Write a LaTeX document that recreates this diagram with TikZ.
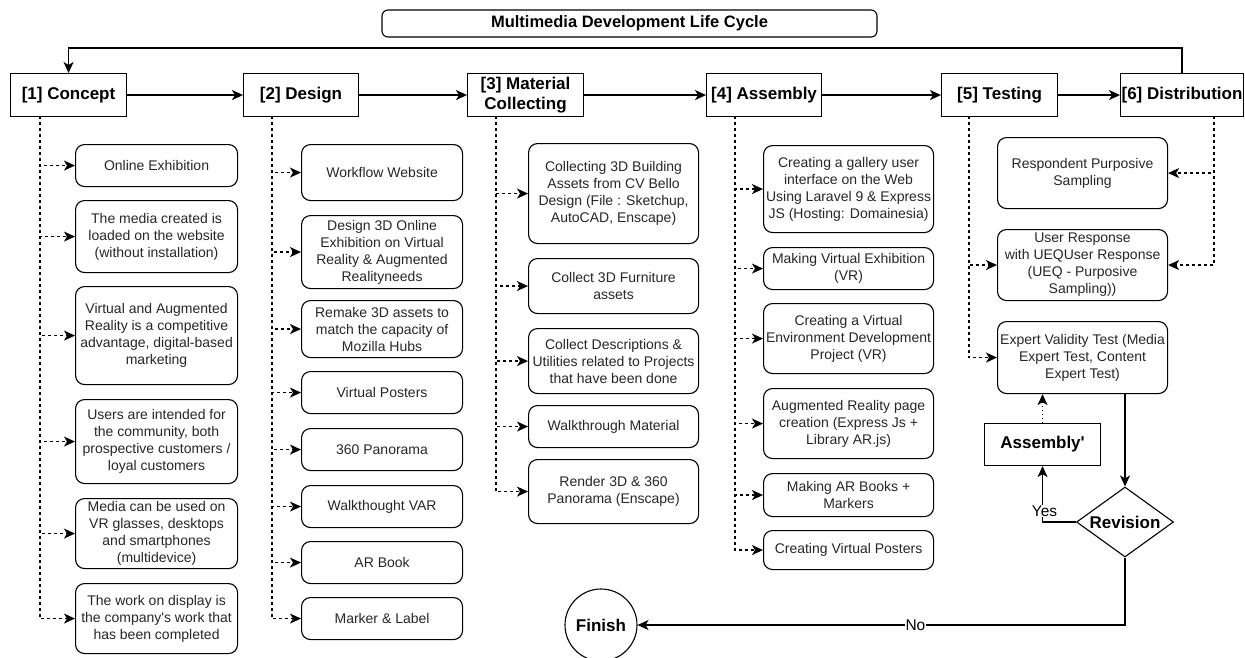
\documentclass[tikz,border=0pt]{standalone}
\usepackage{fontspec}
\setmainfont{Liberation Sans}
\usetikzlibrary{arrows.meta,shapes.geometric}
\begin{document}
\begin{tikzpicture}[x=1pt,y=-1pt,
  >={Stealth[length=11pt,width=10pt,inset=3pt]},
  base/.style={draw, line width=1.1pt, inner sep=0pt, align=center},
  hdr/.style={base, font=\fontsize{17}{20}\selectfont\bfseries, minimum height=43pt, anchor=north west},
  item/.style={base, rounded corners=9pt, font=\fontsize{14}{17}\selectfont, text=black!85, anchor=north west},
  flow/.style={line width=1.3pt, ->},
  dep/.style={line width=1.2pt, dash pattern=on 3pt off 3pt, ->},
  dots/.style={line width=1.2pt, dash pattern=on 1.5pt off 2.5pt, ->},
  lbl/.style={fill=white, inner sep=1pt, font=\fontsize{15.5}{18}\selectfont},
]
\useasboundingbox (0,0) rectangle (1245,657);

% title
\node[base, rounded corners=6pt, minimum width=495pt, minimum height=27pt,
      font=\fontsize{16.5}{19}\selectfont\bfseries] (title) at (629.5,23.5) {Multimedia Development Life Cycle};

% headers
\node[hdr, minimum width=116pt] (c1) at (10,73) {[1] Concept};
\node[hdr, minimum width=115pt] (c2) at (243,73) {[2] Design};
\node[hdr, minimum width=116pt] (c3) at (467,73) {[3] Material\\Collecting};
\node[hdr, minimum width=115pt] (c4) at (706,73) {[4] Assembly};
\node[hdr, minimum width=116pt] (c5) at (941,73) {[5] Testing};
\node[hdr, minimum width=123pt] (c6) at (1120,73) {[6] Distribution};

\draw[flow] (c1) -- (c2);
\draw[flow] (c2) -- (c3);
\draw[flow] (c3) -- (c4);
\draw[flow] (c4) -- (c5);
\draw[flow] (c5) -- (c6);
\draw[flow] (c6.north) -- ++(0,-25) -| (c1.north);

% column lines
\coordinate (l1) at (40,116);
\coordinate (l2) at (272,116);
\coordinate (l3) at (496,116);
\coordinate (l4) at (735,116);
\coordinate (l5) at (969,116);
\coordinate (l6) at (1214,116);

% concept
\node[item, minimum width=162pt, minimum height=42pt] (a1) at (75,144) {Online Exhibition};
\node[item, minimum width=162pt, minimum height=72pt] (a2) at (75,200) {The media created is\\loaded on the website\\(without installation)};
\node[item, minimum width=162pt, minimum height=98pt] (a3) at (75,286) {Virtual and Augmented\\Reality is a competitive\\advantage, digital-based\\marketing};
\node[item, minimum width=162pt, minimum height=84pt] (a4) at (75,399) {Users are intended for\\the community, both\\prospective customers /\\loyal customers};
\node[item, minimum width=162pt, minimum height=70pt] (a5) at (75,498) {Media can be used on\\VR glasses, desktops\\and smartphones\\(multidevice)};
\node[item, minimum width=162pt, minimum height=70pt] (a6) at (75,583) {The work on display is\\the company\textquotesingle s work that\\has been completed};
\foreach \n in {a1,a2,a3,a4,a5,a6} \draw[dep] (l1) |- (\n.west);

% design
\node[item, minimum width=161pt, minimum height=56pt] (b1) at (301,144) {Workflow Website};
\node[item, minimum width=161pt, minimum height=73pt] (b2) at (301,215) {Design 3D Online\\Exhibition on Virtual\\Reality \& Augmented\\Realityneeds};
\node[item, minimum width=161pt, minimum height=57pt] (b3) at (301,300) {Remake 3D assets to\\match the capacity of\\Mozilla Hubs};
\node[item, minimum width=161pt, minimum height=42pt] (b4) at (301,371) {Virtual Posters};
\node[item, minimum width=161pt, minimum height=42pt] (b5) at (301,428) {360 Panorama};
\node[item, minimum width=161pt, minimum height=42pt] (b6) at (301,485) {Walkthought VAR};
\node[item, minimum width=161pt, minimum height=42pt] (b7) at (301,541) {AR Book};
\node[item, minimum width=161pt, minimum height=42pt] (b8) at (301,597) {Marker \& Label};
\foreach \n in {b1,b2,b3,b4,b5,b6,b7,b8} \draw[dep] (l2) |- (\n.west);

% material collecting
\node[item, minimum width=170pt, minimum height=100pt] (m1) at (528,143) {Collecting 3D Building\\Assets from CV Bello\\Design (File : Sketchup,\\AutoCAD, Enscape)};
\node[item, minimum width=170pt, minimum height=55pt] (m2) at (528,258) {Collect 3D Furniture\\assets};
\node[item, minimum width=170pt, minimum height=65pt] (m3) at (528,328) {Collect Descriptions \&\\Utilities related to Projects\\that have been done};
\node[item, minimum width=170pt, minimum height=42pt] (m4) at (528,405) {Walkthrough Material};
\node[item, minimum width=170pt, minimum height=64pt] (m5) at (528,459) {Render 3D \& 360\\Panorama (Enscape)};
\foreach \n in {m1,m2,m3,m4,m5} \draw[dep] (l3) |- (\n.west);

% assembly
\node[item, minimum width=170pt, minimum height=87pt] (s1) at (763,145) {Creating a gallery user\\interface on the Web\\Using Laravel 9 \& Express\\JS (Hosting: Domainesia)};
\node[item, minimum width=170pt, minimum height=42pt] (s2) at (763,247) {Making Virtual Exhibition\\(VR)};
\node[item, minimum width=170pt, minimum height=70pt] (s3) at (763,303) {Creating a Virtual\\Environment Development\\Project (VR)};
\node[item, minimum width=170pt, minimum height=70pt] (s4) at (763,388) {Augmented Reality page\\creation (Express Js +\\Library AR.js)};
\node[item, minimum width=170pt, minimum height=43pt] (s5) at (763,473) {Making AR Books +\\Markers};
\node[item, minimum width=170pt, minimum height=39pt] (s6) at (763,530) {Creating Virtual Posters};
\foreach \n in {s1,s2,s3,s4,s5,s6} \draw[dep] (l4) |- (\n.west);

% testing / distribution
\node[item, minimum width=170pt, minimum height=71pt] (t1) at (997,137) {Respondent Purposive\\Sampling};
\node[item, minimum width=170pt, minimum height=71pt] (t2) at (997,229) {User Response\\with UEQUser Response\\(UEQ - Purposive\\Sampling))};
\node[item, minimum width=170pt, minimum height=72pt] (t3) at (997,321) {Expert Validity Test (Media\\Expert Test, Content\\Expert Test)};
\draw[dep] (l5) |- (t2.west);
\draw[dep] (l5) |- (t3.west);
\draw[dep] (l6) |- (t1.east);
\draw[dep] (l6) |- (t2.east);

% revision loop
\node[hdr, minimum width=116pt, minimum height=42pt] (asmp) at (984,423) {Assembly\textquotesingle};
\node[base, diamond, aspect=1.39, minimum width=97pt, minimum height=70pt,
      font=\fontsize{17}{20}\selectfont\bfseries] (rev) at (1125,522) {Revision};
\node[base, circle, minimum size=72pt, font=\fontsize{17}{20}\selectfont\bfseries] (fin) at (601,625) {Finish};

\draw[dots] (asmp.north) -- (asmp.north |- t3.south);
\draw[flow] (t3.south -| rev.north) -- (rev.north);
\draw[flow] (rev.west) -| node[lbl, pos=0.5, xshift=2pt, yshift=11pt] {Yes} (asmp.south);
\draw[flow] (rev.south) |- node[lbl, pos=0.715] {No} (fin.east);
\end{tikzpicture}
\end{document}
